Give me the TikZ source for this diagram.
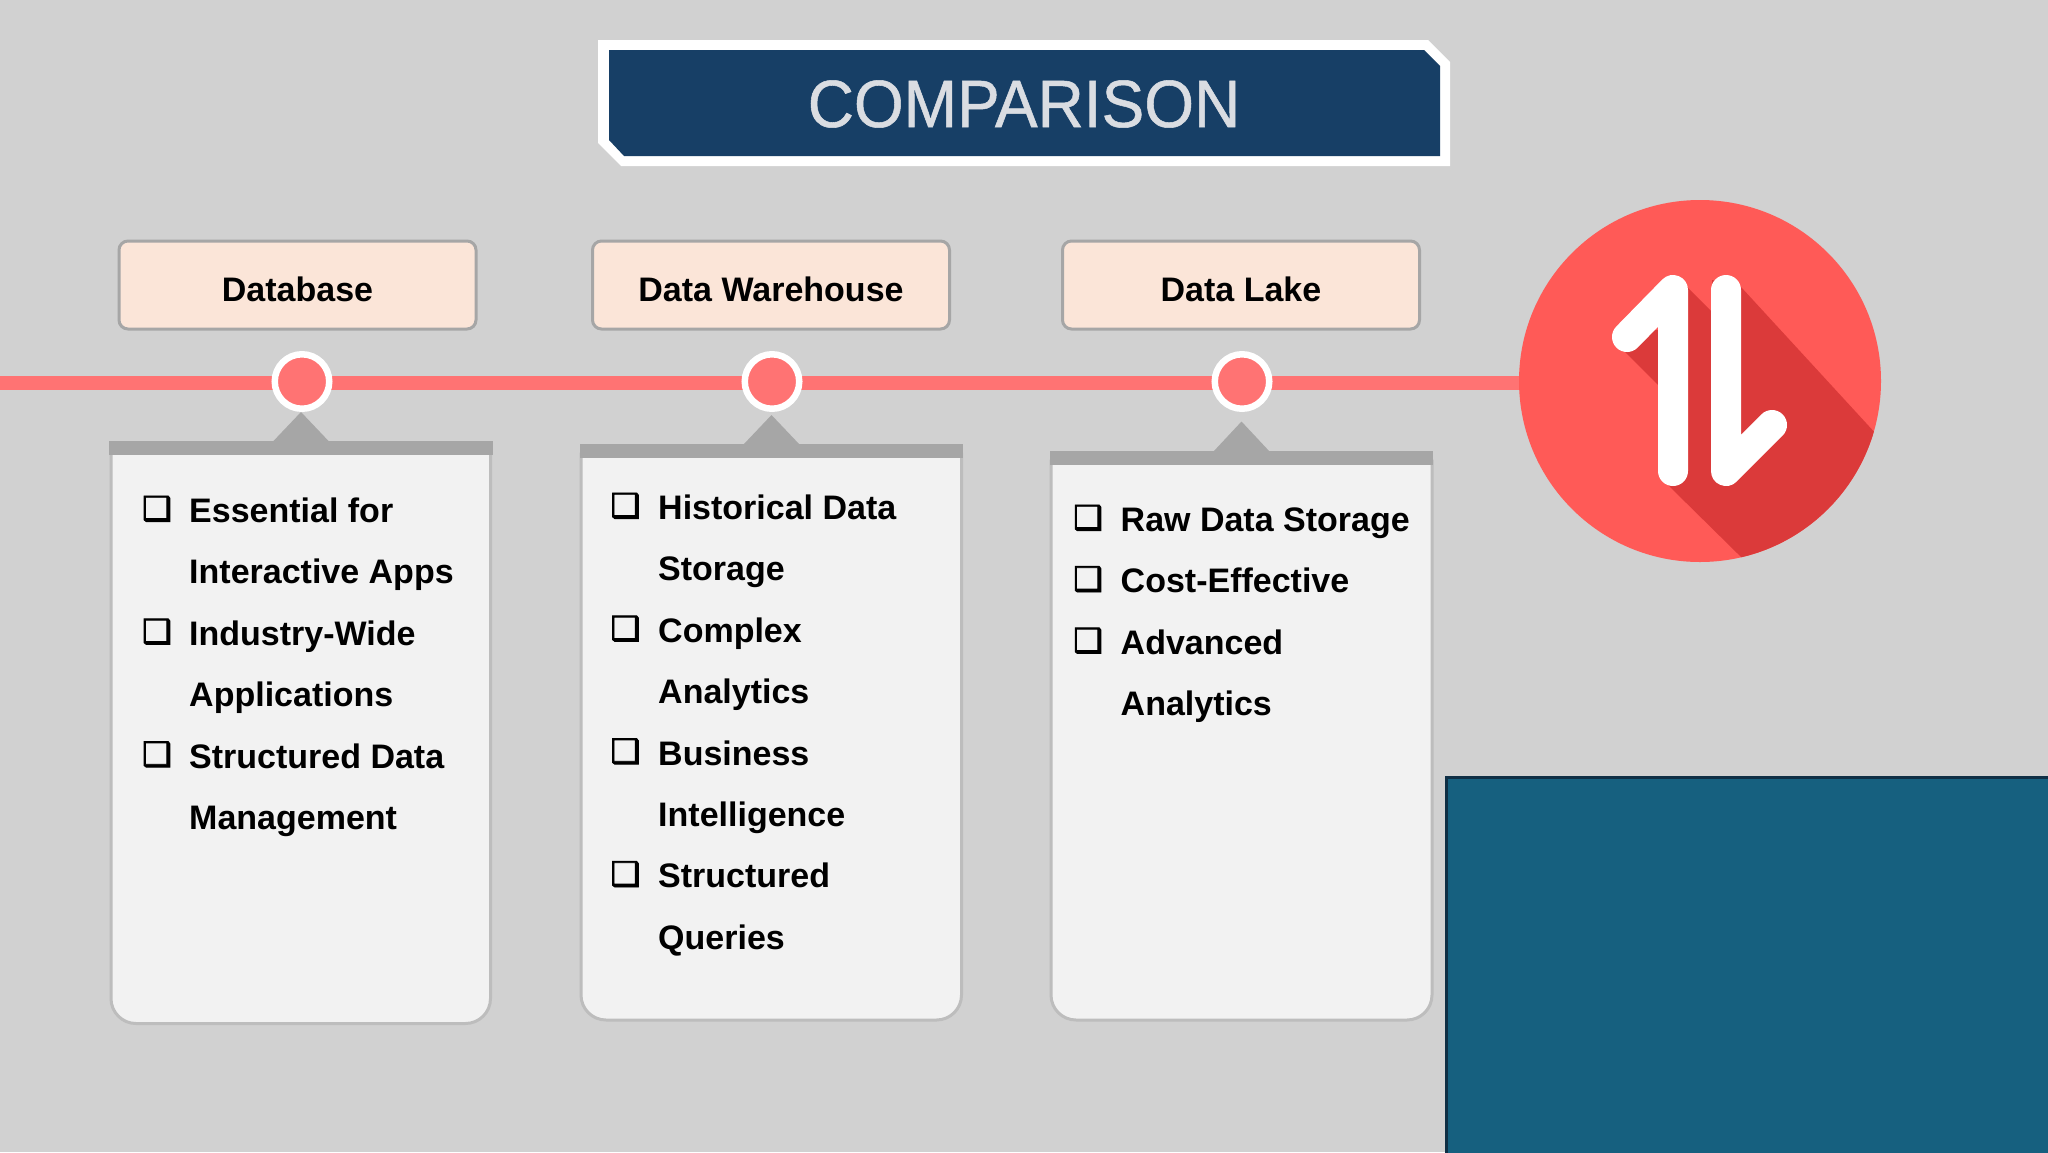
\documentclass[tikz,border=0pt]{standalone}
\usepackage{fontspec}
\setmainfont{Liberation Sans}
\newfontfamily\bulletfont[RawFeature={embolden=2.6}]{DejaVu Sans}
\newfontfamily\titlefont[RawFeature={embolden=0.8}]{Liberation Sans}
\usetikzlibrary{backgrounds}
\definecolor{bgc}{HTML}{D1D1D1}
\definecolor{navy}{HTML}{173F66}
\definecolor{titletxt}{HTML}{DADDE2}
\definecolor{peach}{HTML}{FBE5D8}
\definecolor{edgegrey}{HTML}{A6A6A6}
\definecolor{linered}{HTML}{FF7373}
\definecolor{iconred}{HTML}{FF5A57}
\definecolor{icondark}{HTML}{DB3A3A}
\definecolor{cardfill}{HTML}{F2F2F2}
\definecolor{cardedge}{HTML}{BDBDBD}
\definecolor{teal}{HTML}{16607F}
\definecolor{tealedge}{HTML}{0F2F45}
\tikzset{
  header/.style={draw=edgegrey,line width=3pt,fill=peach,rounded corners=9pt,minimum width=357pt,minimum height=88pt,inner sep=0pt,font=\bfseries\fontsize{34}{40}\selectfont,text=black,text height=32pt,text depth=0pt},
  dot/.style={circle,draw=white,line width=6.5pt,fill=linered,minimum size=54.5pt,inner sep=0pt,outer sep=0pt},
  cardbody/.style={draw=cardedge,line width=3pt,fill=cardfill},
  cardbar/.style={fill=edgegrey},
  listline/.style={anchor=base west,inner sep=0pt,font=\bfseries\fontsize{34}{40}\selectfont,text=black},
  tick/.style={anchor=base west,inner sep=0pt,yshift=2pt,font=\bulletfont\fontsize{33}{40}\selectfont,text=black},
  arrowstroke/.style={draw=white,line width=30pt,line cap=round,line join=round}
}
\newcommand{\cardshape}[7]{% x0 x1 barx0 barx1 bary apex bottom
  \pgfmathsetmacro{\midx}{(#3+#4)/2}
  \draw[cardbody] (#1,#5+10) [rounded corners=25pt] -- (#1,#7) -- (#2,#7) [sharp corners] -- (#2,#5+10) -- cycle;
  \fill[cardbar] (#3,#5) rectangle (#4,#5+14);
  \fill[cardbar] (\midx-28.5,#5+1) -- (\midx,#6) -- (\midx+28.5,#5+1) -- cycle;
}
\begin{document}
\begin{tikzpicture}[x=1pt,y=-1pt]
\useasboundingbox (0,0) rectangle (2048,1152);

% title banner
\fill[white] (598,40) -- (1428,40) -- (1450,62) -- (1450,166) -- (621,166) -- (598,143) -- cycle;
\fill[navy] (609,50) -- (1424,50) -- (1440,66) -- (1440,156) -- (624,156) -- (609,140) -- cycle;
\node[inner sep=0pt,text=titletxt,font=\titlefont\fontsize{67}{70}\selectfont,xscale=.955] (title) at (1024,104) {COMPARISON};

% icon
\node[circle,fill=iconred,minimum size=362pt,inner sep=0pt,outer sep=0pt] (icon) at (1700,381) {};
\begin{scope}
  \clip (1700,381) circle[radius=181];
  \fill[icondark] (1623,350) -- (1660,387) -- (1660,330) -- (1640,330) -- cycle;
  \fill[icondark] (1686,286) -- (1712,312) -- (1712,280) -- (1741,287) -- (1900,460) -- (1900,620) -- (1805,620) -- (1670,487) -- (1660,470) -- (1660,300) -- cycle;
\end{scope}
\draw[arrowstroke] (1627,337) -- (1673,290) -- (1673,471);
\draw[arrowstroke] (1726,290) -- (1726,471) -- (1772,425);

% timeline
\coordinate (linestart) at (0,383);
\begin{scope}[on background layer]
  \fill[bgc] (0,0) rectangle (2048,1152);
  \draw[linered,line width=14pt] (linestart) -- (linestart -| icon.west);
\end{scope}
\node[dot] (dotA) at (302,381.5) {};
\node[dot] (dotB) at (772,381.5) {};
\node[dot] (dotC) at (1242,381.5) {};

% headers
\node[header] (headA) at (297.5,285) {Database};
\node[header] (headB) at (771,285) {Data Warehouse};
\node[header] (headC) at (1241,285) {Data Lake};

% cards
\cardshape{111}{490.5}{109}{493}{441}{412}{1023.5}
\cardshape{581}{961.5}{580}{963}{444}{415}{1020}
\cardshape{1051}{1432}{1050}{1433}{451}{421.5}{1020}

% card A
\node[tick] (ta1) at (142,522) {❑};
\node[listline] (a1) at (189,522) {Essential for};
\node[listline] (a2) at (189,583.4) {Interactive Apps};
\node[tick] (ta2) at (142,644.8) {❑};
\node[listline] (a3) at (189,645.3) {Industry-Wide};
\node[listline] (a4) at (189,706.2) {Applications};
\node[tick] (ta3) at (142,767.6) {❑};
\node[listline] (a5) at (189,768) {Structured Data};
\node[listline] (a6) at (189,829) {Management};

% card B
\node[tick] (tb1) at (610.5,519) {❑};
\node[listline] (b1) at (658,519) {Historical Data};
\node[listline] (b2) at (658,580.4) {Storage};
\node[tick] (tb2) at (610.5,641.8) {❑};
\node[listline] (b3) at (658,642.2) {Complex};
\node[listline] (b4) at (658,703.2) {Analytics};
\node[tick] (tb3) at (610.5,764.6) {❑};
\node[listline] (b5) at (658,765) {Business};
\node[listline] (b6) at (658,826) {Intelligence};
\node[tick] (tb4) at (610.5,887.4) {❑};
\node[listline] (b7) at (658,887.4) {Structured};
\node[listline] (b8) at (658,949.2) {Queries};

% card C
\node[tick] (tc1) at (1073,531) {❑};
\node[listline] (c1) at (1120.5,531) {Raw Data Storage};
\node[tick] (tc2) at (1073,592.4) {❑};
\node[listline] (c2) at (1120.5,592.8) {Cost-Effective};
\node[tick] (tc3) at (1073,653.8) {❑};
\node[listline] (c3) at (1120.5,654.2) {Advanced};
\node[listline] (c4) at (1120.5,715.6) {Analytics};

% blue panel
\draw[fill=teal,draw=tealedge,line width=3.5pt] (1446.7,777.5) rectangle (2054,1158);
\end{tikzpicture}
\end{document}
